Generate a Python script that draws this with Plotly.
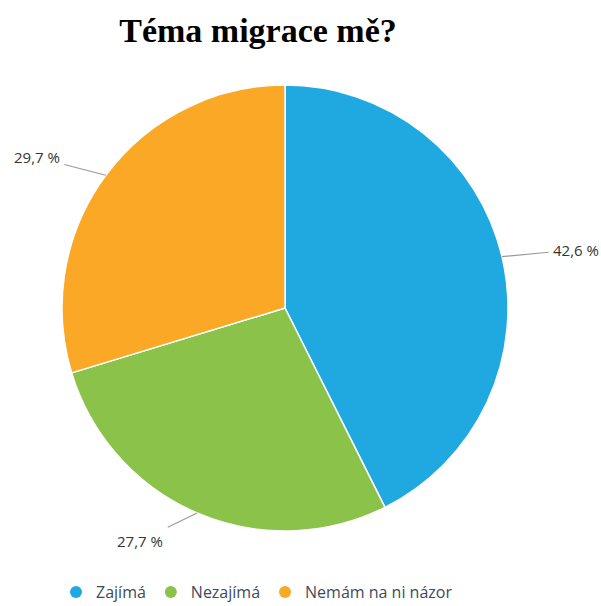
import math
import plotly.graph_objects as go

categories = ["Zajímá", "Nezajímá", "Nemám na ni názor"]
values = [42.6, 27.7, 29.7]
colors = ["#20a9e1", "#8bc34a", "#faa825"]
label_texts = ["42,6 %", "27,7 %", "29,7 %"]

W, H = 601, 606
L, R, T, B = 62, 93, 85, 75

fig = go.Figure()
fig.add_trace(go.Pie(
    labels=categories, values=values, sort=False, direction="clockwise",
    marker=dict(colors=colors, line=dict(color="white", width=1.5)),
    textinfo="none", hoverinfo="none", showlegend=False,
    domain=dict(x=[0, 1], y=[0, 1]),
))

# legend entries with circle markers
for c, col in zip(categories, colors):
    fig.add_trace(go.Scatter(x=[None], y=[None], mode="markers", name=c,
                             marker=dict(symbol="circle", size=12, color=col),
                             hoverinfo="none"))

# outside labels with connector lines, positioned from slice mid-angles
total = sum(values)
start = 90.0
R_EXT, H_EXT = 30, 45
for v, txt in zip(values, label_texts):
    sweep = v / total * 360
    mid = math.radians(start - sweep / 2)
    start -= sweep
    cx, cy = math.cos(mid), math.sin(mid)
    px = 0.5 + 0.5 * cx
    py = 0.5 + 0.5 * cy
    sgn = 1 if cx >= 0 else -1
    ax = cx * R_EXT + sgn * H_EXT
    ay = -cy * R_EXT
    fig.add_annotation(x=px, y=py, xref="paper", yref="paper", text=txt,
                       showarrow=True, arrowhead=0, arrowwidth=1.2,
                       arrowcolor="#9a9a9a", ax=ax, ay=ay, standoff=0,
                       borderpad=4,
                       font=dict(family="Open Sans, Noto Sans", size=15, color="#333333"))

fig.update_layout(
    width=W, height=H,
    margin=dict(l=L, r=R, t=T, b=B),
    paper_bgcolor="white", plot_bgcolor="white",
    title=dict(text="<b>Téma migrace mě?</b>", xref="container", x=258 / W,
               xanchor="center", y=1 - 30 / H, yanchor="middle",
               font=dict(family="Liberation Serif, Times New Roman, serif", size=34, color="black")),
    xaxis=dict(visible=False), yaxis=dict(visible=False),
    legend=dict(orientation="h", xref="container", yref="container",
                x=257 / W, xanchor="center", y=14 / H, yanchor="middle",
                font=dict(family="Open Sans, Noto Sans", size=16, color="#3d4b5c"),
                itemwidth=30),
)

html = fig.to_html(full_html=True, config={"displayModeBar": False})
html = html.replace("<head>", "<head><style>html,body{margin:0;padding:0;}</style>", 1)
with open("out.html", "w", encoding="utf-8") as f:
    f.write(html)
